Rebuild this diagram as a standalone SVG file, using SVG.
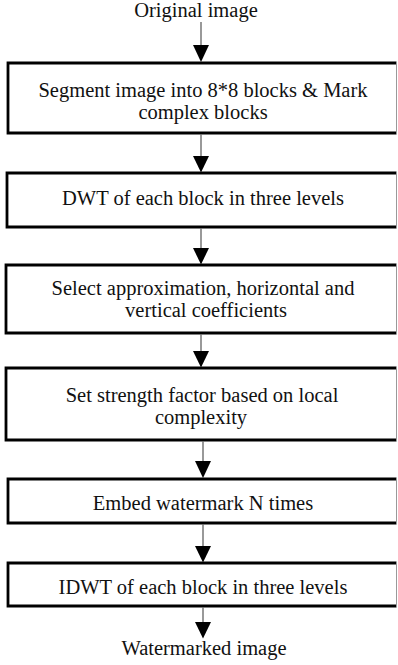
<svg xmlns="http://www.w3.org/2000/svg" width="398" height="665" viewBox="0 0 398 665" font-family="'Liberation Serif', 'DejaVu Serif', serif">
<style>
.bx{fill:none;stroke:#000;stroke-width:2.8}
.re{stroke:#999;stroke-width:1}
text{font-family:'Liberation Serif','DejaVu Serif',serif;font-size:20.5px;fill:#111;text-anchor:middle}
.ln{stroke:#555;stroke-width:1.2}
.hd{fill:#000}
</style>
<rect width="398" height="665" fill="#fff"/>
<g id="start"><text x="196" y="17">Original image</text></g>
<g id="n1">
<path class="bx" d="M396.5,63 H8 V133 H396.5"/><line class="re" x1="396.5" y1="62" x2="396.5" y2="134"/>
<text x="203" y="97">Segment image into 8*8 blocks &amp; Mark</text>
<text x="203" y="119">complex blocks</text>
</g>
<g id="n2">
<path class="bx" d="M396.5,173 H7 V227 H396.5"/><line class="re" x1="396.5" y1="172" x2="396.5" y2="228"/>
<text x="203" y="205">DWT of each block in three levels</text>
</g>
<g id="n3">
<path class="bx" d="M396.5,265 H6 V333 H396.5"/><line class="re" x1="396.5" y1="264" x2="396.5" y2="334"/>
<text x="203" y="295">Select approximation, horizontal and</text>
<text x="206" y="317">vertical coefficients</text>
</g>
<g id="n4">
<path class="bx" d="M396.5,368 H6 V440 H396.5"/><line class="re" x1="396.5" y1="367" x2="396.5" y2="441"/>
<text x="202" y="402">Set strength factor based on local</text>
<text x="201" y="423.5">complexity</text>
</g>
<g id="n5">
<path class="bx" d="M396.5,479 H8 V523 H396.5"/><line class="re" x1="396.5" y1="478" x2="396.5" y2="524"/>
<text x="203" y="510">Embed watermark N times</text>
</g>
<g id="n6">
<path class="bx" d="M396.5,563 H8 V606 H396.5"/><line class="re" x1="396.5" y1="562" x2="396.5" y2="607"/>
<text x="203" y="594">IDWT of each block in three levels</text>
</g>
<g id="end"><text x="204" y="655">Watermarked image</text></g>
<g id="connectors">
<line class="ln" x1="201" y1="22" x2="201" y2="46"/><polygon class="hd" points="193,45 209,45 201,62"/>
<line class="ln" x1="201" y1="134.5" x2="201" y2="157"/><polygon class="hd" points="193,156 209,156 201,172.5"/>
<line class="ln" x1="201" y1="228.5" x2="201" y2="249"/><polygon class="hd" points="193,248 209,248 201,264.5"/>
<line class="ln" x1="201" y1="334.5" x2="201" y2="352"/><polygon class="hd" points="193,351 209,351 201,367.5"/>
<line class="ln" x1="203" y1="441.5" x2="203" y2="462"/><polygon class="hd" points="195,461 211,461 203,478"/>
<line class="ln" x1="203" y1="524.5" x2="203" y2="547"/><polygon class="hd" points="195,546 211,546 203,562.5"/>
<line class="ln" x1="203" y1="607.5" x2="203" y2="623"/><polygon class="hd" points="195,622 211,622 203,638.5"/>
</g>
</svg>
